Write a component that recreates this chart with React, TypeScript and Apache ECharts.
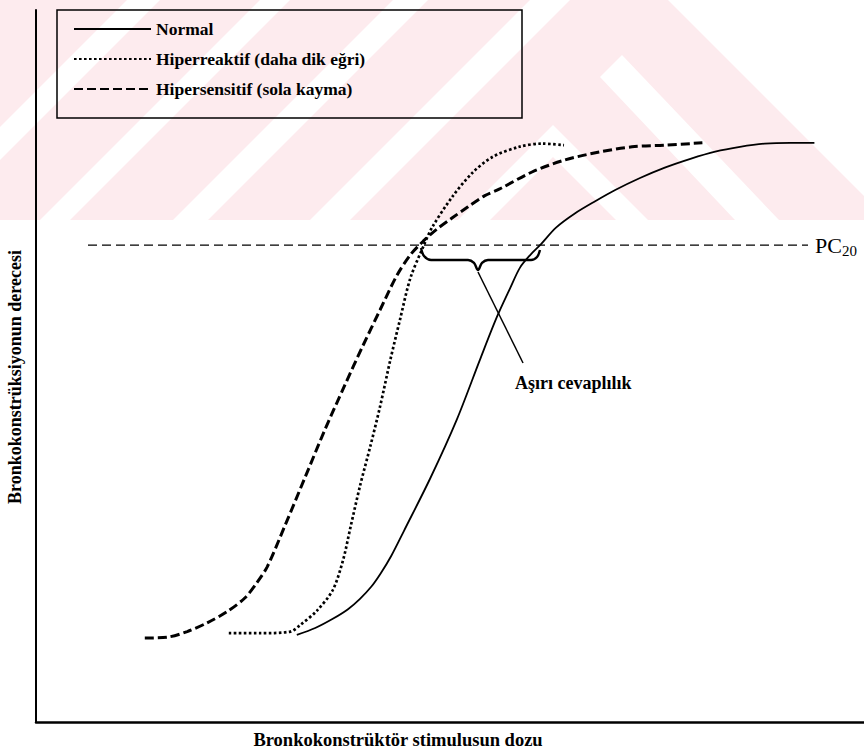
import React, { useEffect, useRef } from "react";
import * as echarts from "echarts";

// Values (x: stimulus dose, y: degree of bronchoconstriction; arbitrary units)
const normalCurve: [number, number][] = [
  [32.6, 10.9], [34.9, 11.75], [37.1, 12.9], [39.0, 14.1], [40.5, 15.4], [41.9, 16.9],
  [43.1, 18.6], [44.4, 20.75], [46.0, 23.9], [49.3, 30.5], [52.6, 37.8], [55.5, 45.3],
  [57.6, 50.6], [59.3, 54.3], [60.5, 56.8], [61.8, 58.4], [63.0, 59.6], [65.0, 61.8],
  [67.4, 63.6], [69.9, 65.1], [72.4, 66.5], [75.5, 68.0], [78.6, 69.3], [81.8, 70.4],
  [84.9, 71.3], [88.0, 71.9], [91.1, 72.3], [94.3, 72.4], [97.3, 72.4],
];

const hyperreactiveCurve: [number, number][] = [
  [24.1, 11.1], [28.0, 11.1], [31.8, 11.3], [33.0, 12.1], [35.1, 13.9], [37.1, 16.5],
  [38.4, 20.3], [39.3, 24.3], [40.5, 29.5], [41.8, 34.5], [43.0, 39.4], [44.3, 45.3],
  [45.5, 50.3], [46.8, 55.5], [48.4, 59.4], [49.5, 61.8], [52.0, 65.6], [54.5, 68.6],
  [57.0, 70.6], [60.4, 71.9], [63.3, 72.3], [66.0, 72.1],
];

const hypersensitiveCurve: [number, number][] = [
  [13.6, 10.5], [16.4, 10.6], [18.9, 11.3], [21.4, 12.4], [23.9, 13.8], [26.1, 15.5],
  [27.6, 17.4], [28.9, 19.4], [31.1, 24.5], [33.6, 30.5], [36.1, 36.5], [38.6, 42.1],
  [40.8, 46.9], [43.0, 51.5], [45.1, 55.8], [46.8, 58.4], [48.4, 60.1], [50.1, 61.6],
  [52.0, 63.0], [54.0, 64.4], [56.1, 65.8], [57.9, 66.6], [62.0, 68.75], [66.1, 70.25],
  [70.4, 71.25], [74.5, 71.9], [78.6, 72.1], [83.3, 72.4],
];

const pc20Line: [number, number][] = [[6.5, 59.6], [96.5, 59.6]];

const braceLine: [number, number][] = [
  [48.13, 59.25], [48.5, 58.25], [49.38, 57.75], [54.0, 57.75], [54.75, 57.38],
  [55.25, 56.5], [55.75, 57.38], [56.5, 57.75], [61.88, 57.75], [62.63, 58.13], [63.0, 59.0],
];

const pointerLine: [number, number][] = [[55.25, 56.25], [60.88, 44.88]];

const seriesNames = [
  "Normal",
  "Hiperreaktif (daha dik eğri)",
  "Hipersensitif (sola kayma)",
];

const xAxisTitle = "Bronkokonstrüktör stimulusun dozu";
const yAxisTitle = "Bronkokonstrüksiyonun derecesi";
const annotationText = "Aşırı cevaplılık";

// Decorative pink watermark in the background (pixel geometry)
const watermarkWhiteBands: number[][][] = [
  [[-93, 220], [-60, 220], [160, 0], [127, 0]],
  [[40, 220], [70, 220], [290, 0], [260, 0]],
  [[173, 220], [208, 220], [428, 0], [393, 0]],
  [[310, 220], [350, 220], [570, 0], [530, 0]],
  [[458, 220], [490, 220], [553, 157], [616, 220], [648, 220], [553, 125]],
  [[600, 77], [622, 55], [779, 220], [735, 220]],
  [[668, 0], [864, 0], [864, 196]],
];

const SERIF = '"Liberation Serif", "Times New Roman", serif';

export default function App() {
  const ref = useRef<HTMLDivElement>(null);

  useEffect(() => {
    if (!ref.current) return;
    const chart = echarts.init(ref.current, null, { renderer: "svg" });

    const graphic: any[] = [
      {
        type: "rect",
        z: -20,
        silent: true,
        shape: { x: 0, y: 0, width: 864, height: 220 },
        style: { fill: "#fdebee" },
      },
      ...watermarkWhiteBands.map((pts) => ({
        type: "polygon",
        z: -19,
        silent: true,
        shape: { points: pts },
        style: { fill: "#ffffff" },
      })),
      {
        type: "rect",
        z: 5,
        silent: true,
        shape: { x: 57, y: 10, width: 465, height: 108 },
        style: { fill: "none", stroke: "#000", lineWidth: 1.5 },
      },
      {
        type: "text",
        z: 6,
        silent: true,
        x: 515,
        y: 383,
        style: {
          text: annotationText,
          font: `bold 18px ${SERIF}`,
          fill: "#000",
          verticalAlign: "middle",
          align: "left",
        },
      },
    ];

    const option: any = {
      animation: false,
      backgroundColor: "#ffffff",
      grid: { left: 36, right: 0, top: 10, bottom: 27, containLabel: false, outerBoundsMode: "none" },
      legend: {
        orient: "vertical",
        left: 68,
        top: 15,
        itemWidth: 77,
        itemHeight: 14,
        itemGap: 12,
        selectedMode: false,
        data: seriesNames,
        itemStyle: { color: "rgba(0,0,0,0)", borderColor: "rgba(0,0,0,0)", borderWidth: 0, opacity: 0 },
        textStyle: { fontFamily: SERIF, fontWeight: "bold", fontSize: 17.5, color: "#000" },
      },
      xAxis: {
        type: "value",
        min: 0,
        max: 103.5,
        axisLine: { show: true, lineStyle: { color: "#000", width: 2.5 } },
        axisTick: { show: false },
        axisLabel: { show: false },
        splitLine: { show: false },
        name: xAxisTitle,
        nameLocation: "middle",
        nameGap: 8,
        nameTextStyle: {
          fontFamily: SERIF,
          fontWeight: "bold",
          fontSize: 18.5,
          color: "#000",
          padding: [0, 104, 0, 0],
        },
      },
      yAxis: {
        type: "value",
        min: 0,
        max: 89,
        axisLine: { show: true, lineStyle: { color: "#000", width: 2 } },
        axisTick: { show: false },
        axisLabel: { show: false },
        splitLine: { show: false },
        name: yAxisTitle,
        nameLocation: "middle",
        nameGap: 12,
        nameTextStyle: {
          fontFamily: SERIF,
          fontWeight: "bold",
          fontSize: 18,
          color: "#000",
          padding: [0, 22, 0, 0],
        },
      },
      graphic,
      series: [
        {
          name: seriesNames[0],
          type: "line",
          data: normalCurve,
          smooth: 0.3,
          symbol: "none",
          lineStyle: { color: "#000", width: 1.8, type: "solid" },
          itemStyle: { color: "#000" },
          z: 3,
        },
        {
          name: seriesNames[1],
          type: "line",
          data: hyperreactiveCurve,
          smooth: 0.3,
          symbol: "none",
          lineStyle: { color: "#000", width: 2.7, type: [2.6, 2.4] },
          itemStyle: { color: "#000" },
          z: 3,
        },
        {
          name: seriesNames[2],
          type: "line",
          data: hypersensitiveCurve,
          smooth: 0.3,
          symbol: "none",
          lineStyle: { color: "#000", width: 3, type: [9, 4] },
          itemStyle: { color: "#000" },
          z: 3,
        },
        {
          name: "PC20",
          type: "line",
          data: pc20Line,
          symbol: "none",
          silent: true,
          lineStyle: { color: "#000", width: 1.2, type: [9, 5] },
          endLabel: {
            show: true,
            distance: 7,
            formatter: "{a|PC}{b|20}",
            rich: {
              a: { fontFamily: SERIF, fontSize: 22, color: "#000", lineHeight: 22, verticalAlign: "top" },
              b: { fontFamily: SERIF, fontSize: 15, color: "#000", lineHeight: 15, verticalAlign: "top", padding: [9, 0, 0, 0] },
            },
          },
          z: 2,
        },
        {
          name: "brace",
          type: "line",
          data: braceLine,
          smooth: 0.35,
          symbol: "none",
          silent: true,
          lineStyle: { color: "#000", width: 2.4 },
          z: 4,
        },
        {
          name: "pointer",
          type: "line",
          data: pointerLine,
          symbol: "none",
          silent: true,
          lineStyle: { color: "#000", width: 1.5 },
          z: 4,
        },
      ],
    };

    chart.setOption(option);
    return () => chart.dispose();
  }, []);

  return (
    <div
      ref={ref}
      style={{ position: "fixed", left: 0, top: 0, width: 864, height: 749, background: "#fff" }}
    />
  );
}
